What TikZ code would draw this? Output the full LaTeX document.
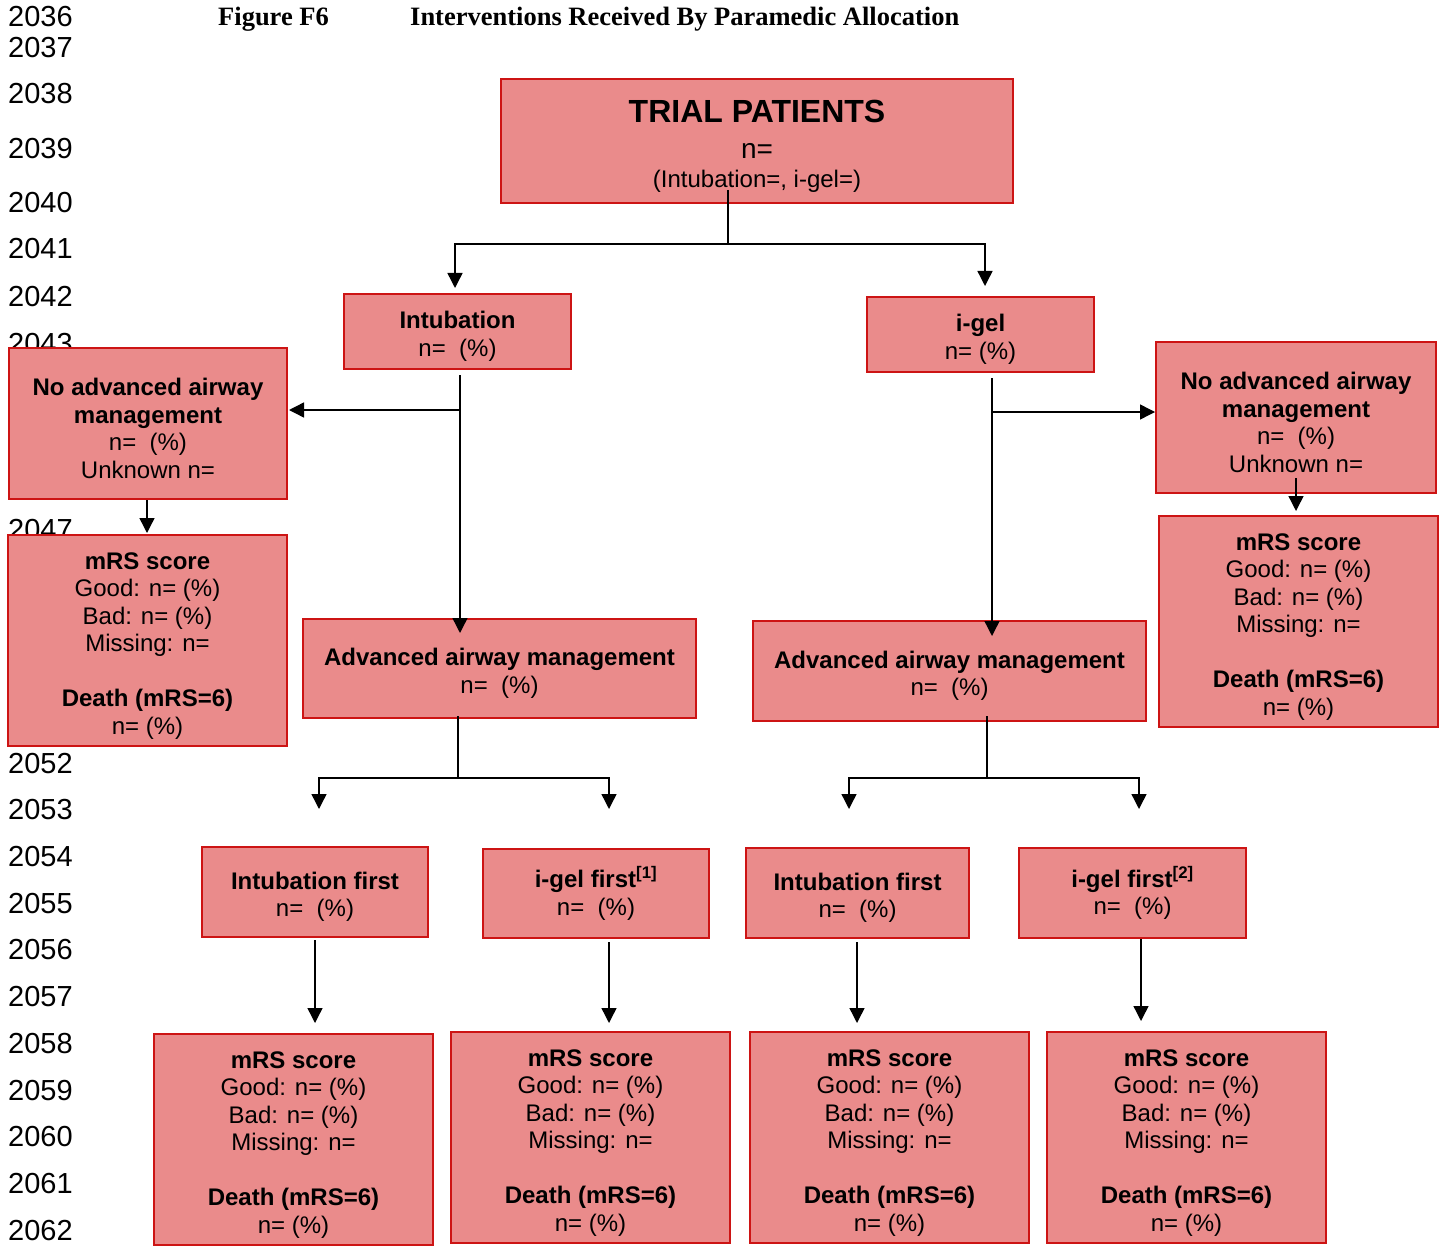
\documentclass[tikz,border=0pt]{standalone}
\usepackage{fontspec}
\setmainfont{Liberation Sans}
\newfontfamily\titlefont{Liberation Serif}
\usetikzlibrary{arrows.meta}
\definecolor{boxfill}{RGB}{234,139,139}
\definecolor{boxline}{RGB}{205,20,20}
\newcommand\topstrut{\rule{0pt}{27pt}}
\tikzset{
  fbox/.style={draw=boxline, fill=boxfill, line width=1.6pt, inner sep=0pt, align=center,
    font=\fontsize{24}{27.5}\selectfont},
  conn/.style={line width=1.4pt, draw=black},
  arr/.style={conn, -{Triangle[width=15pt,length=15pt]}},
  lnum/.style={anchor=base west, inner sep=0pt, font=\fontsize{29}{32}\selectfont},
  ttl/.style={anchor=base west, inner sep=0pt, font=\titlefont\bfseries\fontsize{26.5}{30}\selectfont}
}
\begin{document}
\begin{tikzpicture}[x=1pt,y=-1pt]
\path[use as bounding box] (0,0) rectangle (1447,1246);
% line numbers
\foreach \n/\b in {2036/27,2037/58,2038/104,2039/159,2040/213,2041/259,2042/306,2043/353,2047/539,2052/773,2053/819,2054/866,2055/913,2056/959,2057/1006,2058/1053,2059/1100,2060/1146,2061/1193,2062/1240}
  \node[lnum] (ln\n) at (8,\b) {\n};
% title
\node[ttl] (fig) at (218,26) {Figure F6};
\node[ttl] (figtitle) at (410,26) {Interventions Received By Paramedic Allocation};
% boxes
\node[fbox, minimum width=512pt, minimum height=124pt] (top) at (757,141)
  {\rule{0pt}{32pt}{\fontsize{32}{36}\selectfont\bfseries TRIAL PATIENTS}\\[8.5pt]{\fontsize{28}{34}\selectfont n=}\\[1.5pt](Intubation=, i-gel=)};
\node[fbox, minimum width=227pt, minimum height=75pt] (intub) at (457.5,331.5)
  {\topstrut\textbf{Intubation}\\n=\ \ (\%)};
\node[fbox, minimum width=227pt, minimum height=75pt] (igel) at (980.5,334.5)
  {\topstrut\textbf{i-gel}\\n= (\%)};
\node[fbox, minimum width=278pt, minimum height=151pt] (noL) at (148,423.5)
  {\topstrut\textbf{No advanced airway}\\\textbf{management}\\n=\ \ (\%)\\Unknown n=};
\node[fbox, minimum width=280pt, minimum height=151pt] (noR) at (1296,417.5)
  {\topstrut\textbf{No advanced airway}\\\textbf{management}\\n=\ \ (\%)\\Unknown n=};
\node[fbox, minimum width=279pt, minimum height=211pt] (mrsL) at (147.5,640.5)
  {\topstrut\textbf{mRS score}\\Good: n= (\%)\\Bad: n= (\%)\\Missing: n=\\[27.5pt]\textbf{Death (mRS=6)}\\n= (\%)};
\node[fbox, minimum width=279pt, minimum height=211pt] (mrsR) at (1298.5,621.5)
  {\topstrut\textbf{mRS score}\\Good: n= (\%)\\Bad: n= (\%)\\Missing: n=\\[27.5pt]\textbf{Death (mRS=6)}\\n= (\%)};
\node[fbox, minimum width=393pt, minimum height=99pt] (aamL) at (499.5,668.5)
  {\topstrut\textbf{Advanced airway management}\\n=\ \ (\%)};
\node[fbox, minimum width=393pt, minimum height=100pt] (aamR) at (949.5,671)
  {\topstrut\textbf{Advanced airway management}\\n=\ \ (\%)};
\node[fbox, minimum width=226pt, minimum height=90pt] (ifL) at (315,892)
  {\topstrut\textbf{Intubation first}\\n=\ \ (\%)};
\node[fbox, minimum width=226pt, minimum height=89pt] (gfL) at (596,893.5)
  {\textbf{i-gel first\textsuperscript{[1]}}\\n=\ \ (\%)};
\node[fbox, minimum width=223pt, minimum height=90pt] (ifR) at (857.5,893)
  {\topstrut\textbf{Intubation first}\\n=\ \ (\%)};
\node[fbox, minimum width=227pt, minimum height=90pt] (gfR) at (1132.5,893)
  {\textbf{i-gel first\textsuperscript{[2]}}\\n=\ \ (\%)};
\foreach \nm/\cx/\cy in {mA/293.5/1139.5, mB/590.5/1137.5, mC/889.5/1137.5, mD/1186.5/1137.5}
  \node[fbox, minimum width=279pt, minimum height=211pt] (\nm) at (\cx,\cy)
  {\topstrut\textbf{mRS score}\\Good: n= (\%)\\Bad: n= (\%)\\Missing: n=\\[27.5pt]\textbf{Death (mRS=6)}\\n= (\%)};
% connector coordinates
\coordinate (t0) at (728,190);
\coordinate (t1) at (728,244);
\coordinate (tI) at (455,288);
\coordinate (tG) at (985,286);
\coordinate (i0) at (460,375);
\coordinate (i1) at (460,410);
\coordinate (iE) at (460,633);
\coordinate (iL) at (289,410);
\coordinate (g0) at (992,378);
\coordinate (g1) at (992,412);
\coordinate (gE) at (992,636);
\coordinate (gR) at (1155,412);
\coordinate (nL0) at (147,500);
\coordinate (nL1) at (147,533);
\coordinate (nR0) at (1296,478);
\coordinate (nR1) at (1296,511);
\coordinate (aL0) at (458,716);
\coordinate (aL1) at (458,778);
\coordinate (aLa) at (319,809);
\coordinate (aLb) at (609,809);
\coordinate (aR0) at (987,716);
\coordinate (aR1) at (987,778);
\coordinate (aRa) at (849,809);
\coordinate (aRb) at (1139,809);
\coordinate (f1a) at (315,940);  \coordinate (f1b) at (315,1023);
\coordinate (f2a) at (609,942);  \coordinate (f2b) at (609,1023);
\coordinate (f3a) at (857,942);  \coordinate (f3b) at (857,1023);
\coordinate (f4a) at (1141,939); \coordinate (f4b) at (1141,1021);
% connectors
\draw[conn] (t0) -- (t1);
\draw[arr] (t1) -| (tI);
\draw[arr] (t1) -| (tG);
\draw[arr] (i0) -- (iE);
\draw[arr] (i1) -- (iL);
\draw[arr] (g0) -- (gE);
\draw[arr] (g1) -- (gR);
\draw[arr] (nL0) -- (nL1);
\draw[arr] (nR0) -- (nR1);
\draw[conn] (aL0) -- (aL1);
\draw[arr] (aL1) -| (aLa);
\draw[arr] (aL1) -| (aLb);
\draw[conn] (aR0) -- (aR1);
\draw[arr] (aR1) -| (aRa);
\draw[arr] (aR1) -| (aRb);
\draw[arr] (f1a) -- (f1b);
\draw[arr] (f2a) -- (f2b);
\draw[arr] (f3a) -- (f3b);
\draw[arr] (f4a) -- (f4b);
\end{tikzpicture}
\end{document}
